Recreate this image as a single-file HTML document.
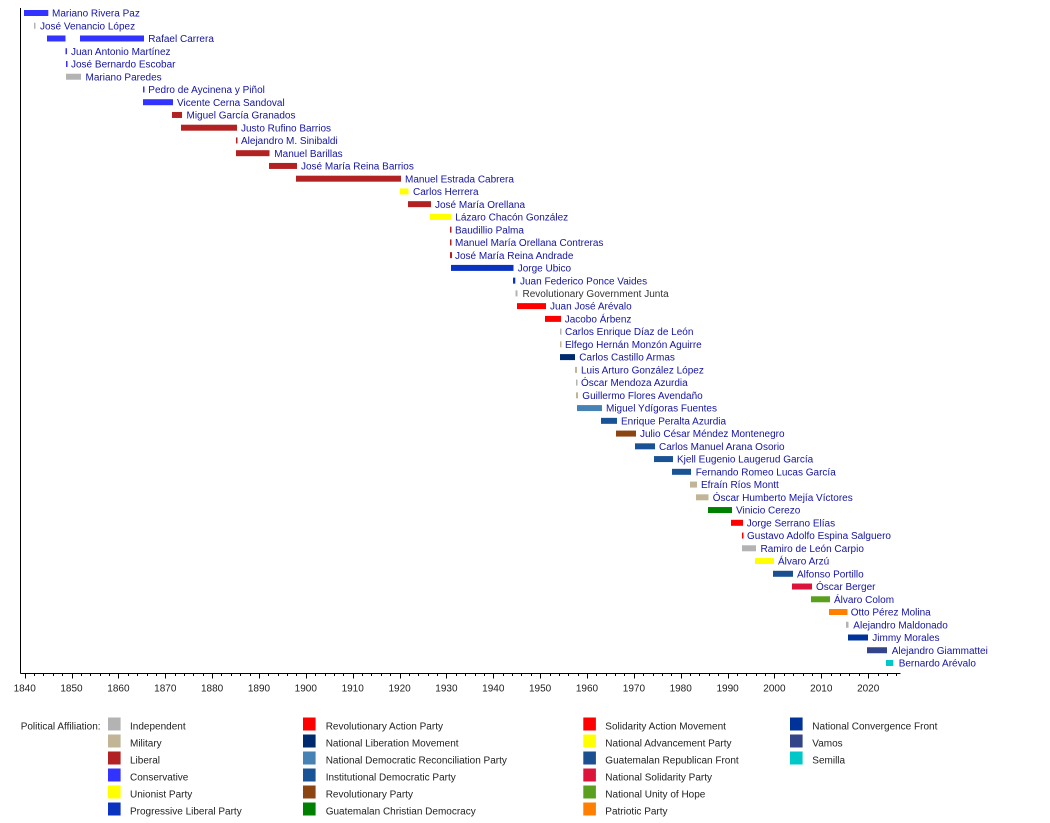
<!DOCTYPE html>
<html><head><meta charset="utf-8"><style>
html,body{margin:0;padding:0;background:#fff;}
svg{display:block;font-family:"Liberation Sans",Arial,sans-serif;}
.n{font-size:10px;fill:#1414a3;}
.g{font-size:10px;fill:#333;}
.t{font-size:10px;fill:#222;text-anchor:middle;}
.l{font-size:10px;fill:#222;}
</style></head><body>
<svg width="1050" height="823" viewBox="0 0 1050 823" xmlns="http://www.w3.org/2000/svg">
<rect width="1050" height="823" fill="#fff"/>
<g id="bars"></g>
<g id="labels"></g>
<line x1="20.5" y1="8" x2="20.5" y2="673.5" stroke="#000" stroke-width="1"/>
<line x1="20.5" y1="673.5" x2="900.5" y2="673.5" stroke="#000" stroke-width="1"/>
<g id="ticks" stroke="#000" stroke-width="1"></g>
<g id="ticklabels"></g>
<text class="l" x="20.7" y="729.5">Political Affiliation:</text>
<g id="legend"></g>
</svg>
<script>
(function(){
var NS="http://www.w3.org/2000/svg";
var C={ind:"#b3b3b3",mil:"#c2b497",lib:"#b22222",con:"#3333ff",uni:"#ffff00",plp:"#0a33c0",
pra:"#ff0000",mln:"#002a6e",ndrp:"#4682b4",pid:"#1a5296",pr:"#8b4513",dcg:"#008000",
mas:"#ff0000",pan:"#ffff00",frg:"#1a4f91",gana:"#dc143c",une:"#5aa01e",pp:"#ff7f00",
fcn:"#003399",vam:"#334488",sem:"#00c8c8"};
var rows=[
["Mariano Rivera Paz","con",[[24,48.3]],52],
["José Venancio López","ind",[[34,35.5]],40],
["Rafael Carrera","con",[[47,65.5],[80,144]],148.3],
["Juan Antonio Martínez","con",[[65.5,67]],71],
["José Bernardo Escobar","con",[[66,67]],71],
["Mariano Paredes","ind",[[66,81]],85.5],
["Pedro de Aycinena y Piñol","con",[[143,144.3]],148.3],
["Vicente Cerna Sandoval","con",[[143,173]],177],
["Miguel García Granados","lib",[[172,182]],186.5],
["Justo Rufino Barrios","lib",[[181,237]],241],
["Alejandro M. Sinibaldi","lib",[[236,237.3]],241],
["Manuel Barillas","lib",[[236,269.5]],274.3],
["José María Reina Barrios","lib",[[269,297]],301],
["Manuel Estrada Cabrera","lib",[[296,401]],405],
["Carlos Herrera","uni",[[400,408.5]],413],
["José María Orellana","lib",[[408,431]],435],
["Lázaro Chacón González","uni",[[430,451]],455.3],
["Baudillio Palma","lib",[[450,451.3]],455],
["Manuel María Orellana Contreras","lib",[[450,451.3]],455],
["José María Reina Andrade","lib",[[450,452]],455],
["Jorge Ubico","plp",[[451,513.5]],517.7],
["Juan Federico Ponce Vaides","plp",[[513,515.3]],520],
["Revolutionary Government Junta","ind",[[515.5,517.5]],522.5,1],
["Juan José Arévalo","pra",[[517,546]],550],
["Jacobo Árbenz","pra",[[545,561]],564.7],
["Carlos Enrique Díaz de León","ind",[[560,561.3]],565],
["Elfego Hernán Monzón Aguirre","mil",[[560,561.3]],565],
["Carlos Castillo Armas","mln",[[560,575]],579.3],
["Luis Arturo González López","mil",[[575,577]],581],
["Óscar Mendoza Azurdia","ind",[[576,577.3]],581],
["Guillermo Flores Avendaño","mil",[[576,578]],582.3],
["Miguel Ydígoras Fuentes","ndrp",[[577,602]],606],
["Enrique Peralta Azurdia","pid",[[601,617]],621],
["Julio César Méndez Montenegro","pr",[[616,636]],640],
["Carlos Manuel Arana Osorio","pid",[[635,655]],659],
["Kjell Eugenio Laugerud García","pid",[[654,673]],677],
["Fernando Romeo Lucas García","pid",[[672,691]],695.7],
["Efraín Ríos Montt","mil",[[690,697]],701],
["Óscar Humberto Mejía Víctores","mil",[[696,708.5]],712.7],
["Vinicio Cerezo","dcg",[[708,732]],736],
["Jorge Serrano Elías","mas",[[731,743]],746.7],
["Gustavo Adolfo Espina Salguero","mas",[[742,743.3]],747],
["Ramiro de León Carpio","ind",[[742,756]],760.5],
["Álvaro Arzú","pan",[[755,774]],778],
["Alfonso Portillo","frg",[[773,793]],797],
["Óscar Berger","gana",[[792,812]],816],
["Álvaro Colom","une",[[811,830]],834],
["Otto Pérez Molina","pp",[[829,847.5]],850.7],
["Alejandro Maldonado","ind",[[846,848.5]],853.3],
["Jimmy Morales","fcn",[[848,868]],872.3],
["Alejandro Giammattei","vam",[[867,887]],891.7],
["Bernardo Arévalo","sem",[[886,893.3]],898.7]
];
var bars=document.getElementById("bars"),labels=document.getElementById("labels");
rows.forEach(function(r,i){
  var yc=13+i*12.745;
  r[2].forEach(function(s){
    var e=document.createElementNS(NS,"rect");
    var w=Math.max(s[1]-s[0],1.5);
    e.setAttribute("x",s[0]);e.setAttribute("y",(yc-3).toFixed(2));
    e.setAttribute("width",w);e.setAttribute("height",6);
    e.setAttribute("fill",C[r[1]]);bars.appendChild(e);
  });
  var t=document.createElementNS(NS,"text");
  t.setAttribute("class",r[4]?"g":"n");
  t.setAttribute("x",r[3]);t.setAttribute("y",(yc+3.6).toFixed(2));
  t.textContent=r[0];labels.appendChild(t);
});
var ticks=document.getElementById("ticks"),tl=document.getElementById("ticklabels");
function X(y){return 20+(y-1839)*4.686;}
for(var y=1840;y<=2026;y+=2){
  var x=Math.round(X(y))+0.5;
  var major=(y%10===0);
  var l=document.createElementNS(NS,"line");
  l.setAttribute("x1",x);l.setAttribute("x2",x);
  l.setAttribute("y1",673.5);l.setAttribute("y2",major?678.5:676);
  ticks.appendChild(l);
  if(major){
    var t=document.createElementNS(NS,"text");
    t.setAttribute("class","t");t.setAttribute("x",X(y).toFixed(1));t.setAttribute("y",691.5);
    t.textContent=y;tl.appendChild(t);
  }
}
var leg=[
[108,130,[["Independent","ind"],["Military","mil"],["Liberal","lib"],["Conservative","con"],["Unionist Party","uni"],["Progressive Liberal Party","plp"]]],
[303,325.7,[["Revolutionary Action Party","pra"],["National Liberation Movement","mln"],["National Democratic Reconciliation Party","ndrp"],["Institutional Democratic Party","pid"],["Revolutionary Party","pr"],["Guatemalan Christian Democracy","dcg"]]],
[583.3,605.3,[["Solidarity Action Movement","mas"],["National Advancement Party","pan"],["Guatemalan Republican Front","frg"],["National Solidarity Party","gana"],["National Unity of Hope","une"],["Patriotic Party","pp"]]],
[790,812.3,[["National Convergence Front","fcn"],["Vamos","vam"],["Semilla","sem"]]]
];
var lg=document.getElementById("legend");
leg.forEach(function(c){
  c[2].forEach(function(it,k){
    var top=717.5+k*17;
    var r=document.createElementNS(NS,"rect");
    r.setAttribute("x",c[0]);r.setAttribute("y",top);r.setAttribute("width",12.6);r.setAttribute("height",13);
    r.setAttribute("fill",C[it[1]]);lg.appendChild(r);
    var t=document.createElementNS(NS,"text");
    t.setAttribute("class","l");t.setAttribute("x",c[1]);t.setAttribute("y",top+12);
    t.textContent=it[0];lg.appendChild(t);
  });
});
})();
</script>
</body></html>
